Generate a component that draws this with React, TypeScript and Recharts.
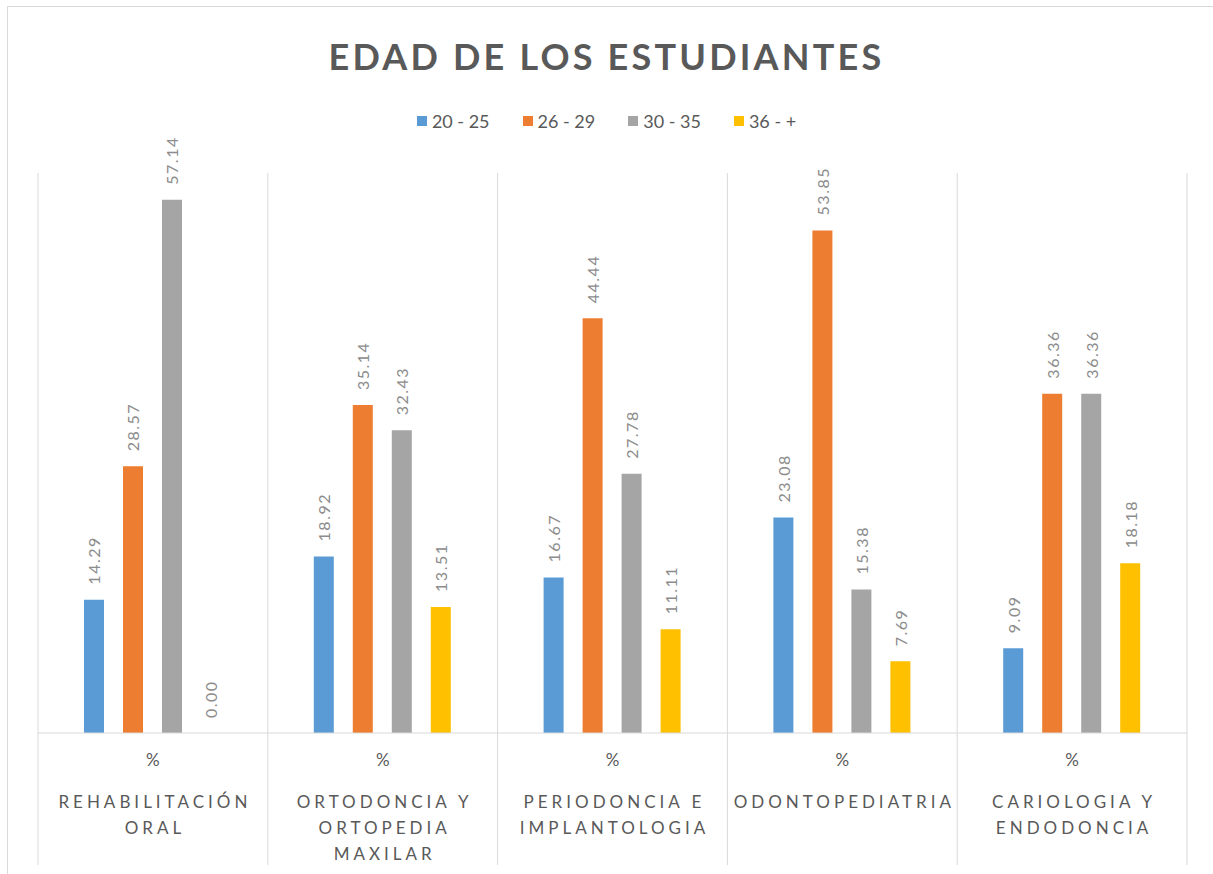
import React from 'react';
import { BarChart, Bar, XAxis, YAxis, CartesianGrid, Legend } from 'recharts';

const categories = ['REHABILITACIÓN ORAL', 'ORTODONCIA Y ORTOPEDIA MAXILAR', 'PERIODONCIA E IMPLANTOLOGIA', 'ODONTOPEDIATRIA', 'CARIOLOGIA Y ENDODONCIA'];
const categoryLines = [
  ['REHABILITACIÓN', 'ORAL'],
  ['ORTODONCIA Y', 'ORTOPEDIA', 'MAXILAR'],
  ['PERIODONCIA E', 'IMPLANTOLOGIA'],
  ['ODONTOPEDIATRIA'],
  ['CARIOLOGIA Y', 'ENDODONCIA'],
];
const unitLabel = '%';

const age20to25 = [14.29, 18.92, 16.67, 23.08, 9.09];
const age26to29 = [28.57, 35.14, 44.44, 53.85, 36.36];
const age30to35 = [57.14, 32.43, 27.78, 15.38, 36.36];
const age36plus = [0.0, 13.51, 11.11, 7.69, 18.18];

const seriesNames = ['20 - 25', '26 - 29', '30 - 35', '36 - +'];
const seriesColors = ['#5B9BD5', '#ED7D31', '#A5A5A5', '#FFC000'];

const data = categories.map((name, i) => ({
  name,
  a: age20to25[i],
  b: age26to29[i],
  c: age30to35[i],
  d: age36plus[i],
}));

const FONT = 'Lato, "Open Sans", sans-serif';
const GRID = '#d9d9d9';
const TICK_DROP = 132;

const renderLabel = (props: any) => {
  const { x, y, width, value } = props;
  const cx = Number(x) + Number(width) / 2;
  const cy = Number(y) - 15;
  return (
    <text
      x={cx}
      y={cy}
      transform={`rotate(-90 ${cx} ${cy})`}
      textAnchor="start"
      dominantBaseline="central"
      fill="#8c8c8c"
      fontSize={16}
      letterSpacing={1.5}
      fontFamily={FONT}
    >
      {Number(value).toFixed(2)}
    </text>
  );
};

// tick: "%" line, the wrapped category name, and the separators that hang below the axis
const CategoryTick = (props: any) => {
  const { x, y, index, width, visibleTicksCount } = props;
  const lines = categoryLines[index] || [];
  const band = (Number(width) || 1149) / (visibleTicksCount || categories.length);
  const isLast = index === (visibleTicksCount || categories.length) - 1;
  return (
    <g>
      <line x1={x - band / 2} x2={x - band / 2} y1={y} y2={y + TICK_DROP} stroke={GRID} />
      {isLast && <line x1={x + band / 2} x2={x + band / 2} y1={y} y2={y + TICK_DROP} stroke={GRID} />}
      <text x={x} y={y + 26} textAnchor="middle" dominantBaseline="central" fill="#595959" fontSize={17} fontFamily={FONT}>
        {unitLabel}
      </text>
      {lines.map((line, i) => (
        <text
          key={i}
          x={x + 2}
          y={y + 68 + i * 26}
          textAnchor="middle"
          dominantBaseline="central"
          fill="#595959"
          fontSize={17}
          letterSpacing={4}
          fontFamily={FONT}
        >
          {line}
        </text>
      ))}
    </g>
  );
};

const renderLegend = () => (
  <div style={{ display: 'flex', justifyContent: 'center', gap: 33, fontFamily: FONT, fontSize: 18, color: '#595959' }}>
    {seriesNames.map((n, i) => (
      <div key={n} style={{ display: 'flex', alignItems: 'center', gap: 5 }}>
        <span style={{ display: 'inline-block', width: 10, height: 10, background: seriesColors[i] }} />
        <span>{n}</span>
      </div>
    ))}
  </div>
);

const categoryBoundaries = ({ offset }: any) =>
  Array.from({ length: categories.length + 1 }, (_, i) => offset.left + (i * offset.width) / categories.length);

const App = () => {
  const keys = ['a', 'b', 'c', 'd'];
  return (
    <div style={{ position: 'absolute', left: 0, top: 0, width: 1213, height: 874, overflow: 'hidden', background: '#fff' }}>
      <div style={{ position: 'absolute', left: 7, top: 6, width: 1300, height: 1000, border: `1px solid ${GRID}` }} />
      <div
        style={{
          position: 'absolute',
          left: 0,
          top: 33,
          width: 1213,
          textAlign: 'center',
          fontFamily: FONT,
          fontWeight: 700,
          fontSize: 36,
          letterSpacing: 3.2,
          lineHeight: '46px',
          color: '#595959',
        }}
      >
        EDAD DE LOS ESTUDIANTES
      </div>
      <BarChart
        width={1213}
        height={874}
        data={data}
        margin={{ top: 173, right: 26, bottom: 0, left: 38 }}
        barSize={20}
        barGap={19}
        style={{ position: 'absolute', left: 0, top: 0 }}
      >
        <CartesianGrid horizontal={false} vertical stroke={GRID} verticalCoordinatesGenerator={categoryBoundaries} />
        <XAxis
          dataKey="name"
          type="category"
          height={141}
          interval={0}
          tickLine={false}
          axisLine={{ stroke: GRID }}
          tickSize={0}
          tickMargin={0}
          tick={<CategoryTick />}
        />
        <YAxis hide domain={[0, 60]} />
        <Legend
          verticalAlign="middle"
          content={renderLegend}
          wrapperStyle={{ top: 110, left: 0, width: 1213 }}
        />
        {keys.map((k, i) => (
          <Bar
            key={k}
            dataKey={k}
            name={seriesNames[i]}
            fill={seriesColors[i]}
            minPointSize={0.01}
            isAnimationActive={false}
            label={renderLabel}
          />
        ))}
      </BarChart>
    </div>
  );
};

export default App;
